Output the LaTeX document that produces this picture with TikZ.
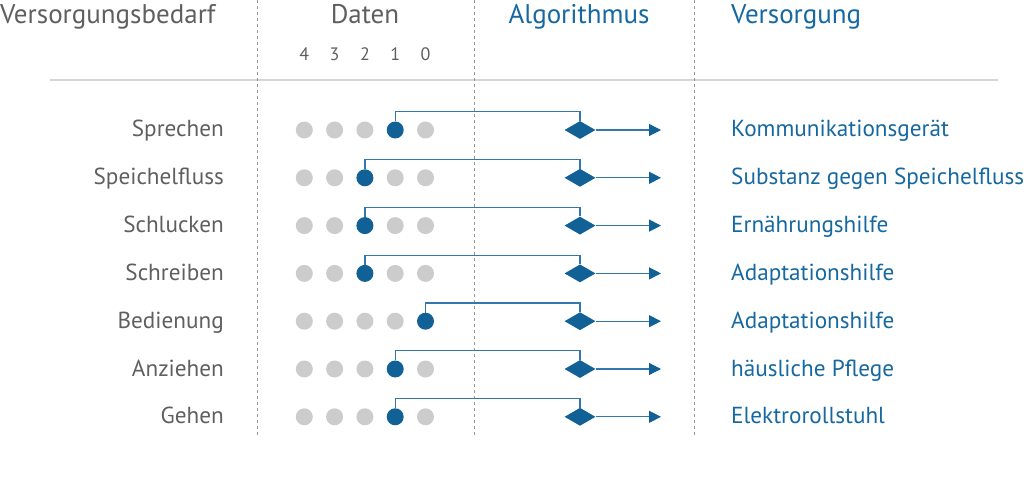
\documentclass[tikz,border=0pt]{standalone}
\usepackage{fontspec}
\setmainfont{PT Sans}
\usepackage{tikz}
\usetikzlibrary{shapes.geometric, arrows.meta, positioning}
\definecolor{textgray}{RGB}{95,95,95}
\definecolor{primary}{RGB}{22,104,160}
\definecolor{dotblue}{RGB}{17,96,150}
\definecolor{linkblue}{RGB}{50,120,175}
\definecolor{dotgray}{RGB}{204,204,204}
\definecolor{rulegray}{RGB}{212,212,212}
\definecolor{sepgray}{RGB}{150,150,150}
\tikzset{
    header/.style={font=\fontsize{27}{31}\selectfont, inner sep=0pt},
    need/.style={font=\fontsize{23.2}{27}\selectfont, text=textgray, inner sep=0pt, anchor=base east},
    supply/.style={font=\fontsize{23.2}{27}\selectfont, text=primary, inner sep=0pt, anchor=base west},
    level/.style={font=\fontsize{18}{21}\selectfont, text=textgray, inner sep=0pt, anchor=base},
    dot/.style={circle, fill=dotgray, minimum size=17pt, inner sep=0pt},
    chosen/.style={circle, fill=dotblue, minimum size=17pt, inner sep=0pt},
    algo/.style={diamond, fill=dotblue, minimum width=31pt, minimum height=18pt, inner sep=0pt},
    link/.style={draw=linkblue, line width=1.2pt},
    flow/.style={-{Triangle[length=12pt, width=12pt, color=dotblue]}, draw=linkblue, line width=1.2pt},
    separator/.style={draw=sepgray, line width=1pt, dash pattern=on 3pt off 3pt}
}
\begin{document}
\begin{tikzpicture}[x=1pt, y=-1pt]
    \useasboundingbox (0,0) rectangle (1024,478);

    % Column headers
    \node[header, text=textgray, anchor=base west] (hneed) at (0,24) {Versorgungsbedarf};
    \node[header, text=textgray, anchor=base] (hdata) at (365,24) {Daten};
    \node[header, text=primary, anchor=base] (halgo) at (579,24) {Algorithmus};
    \node[header, text=primary, anchor=base west] (hsupply) at (731,24) {Versorgung};

    % Levels
    \foreach \v [count=\k] in {4,3,2,1,0}
        \node[level] (lv\k) at (274+30.3*\k,61) {\v};

    % Separators
    \draw[rulegray, line width=1.5pt] (50,80) coordinate (rl) -- (998,80) coordinate (rr);
    \coordinate (s1t) at (257,0);  \coordinate (s1b) at (257,437);
    \coordinate (s2t) at (474,0);  \coordinate (s2b) at (474,437);
    \coordinate (s3t) at (694,0);  \coordinate (s3b) at (694,437);
    \draw[separator] (s1t) -- (s1b);
    \draw[separator] (s2t) -- (s2b);
    \draw[separator] (s3t) -- (s3b);

    % Rows
    \foreach \lab/\sel/\out [count=\i] in {
        Sprechen/4/Kommunikationsgerät,
        Speichelfluss/3/Substanz gegen Speichelfluss,
        Schlucken/3/Ernährungshilfe,
        Schreiben/3/Adaptationshilfe,
        Bedienung/5/Adaptationshilfe,
        Anziehen/4/häusliche Pflege,
        Gehen/4/Elektrorollstuhl} {
        \pgfmathsetmacro{\ry}{130+47.8*(\i-1)}
        \node[need] (need\i) at (224,\ry+7) {\lab};
        \foreach \k in {1,...,5} {
            \ifnum\k=\sel
                \node[chosen] (d\i-\k) at (274+30.3*\k,\ry) {};
            \else
                \node[dot] (d\i-\k) at (274+30.3*\k,\ry) {};
            \fi
        }
        \node[algo] (alg\i) at (580,\ry) {};
        \coordinate (end\i) at (661,\ry);
        \node[supply] (out\i) at (731,\ry+7) {\out};
        \draw[link] (d\i-\sel.north) -- ++(0,-9.5) -| (alg\i.north);
        \draw[flow] (alg\i.east) -- (end\i);
    }
\end{tikzpicture}
\end{document}
